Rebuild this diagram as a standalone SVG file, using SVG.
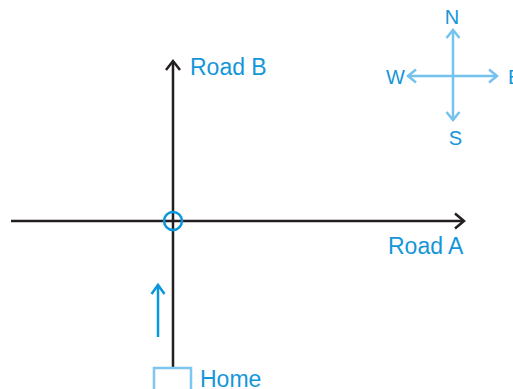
<svg xmlns="http://www.w3.org/2000/svg" width="513" height="389" viewBox="0 0 513 389">
<style>
.road{stroke:#231f20;stroke-width:2.5;fill:none}
.blue{stroke:#0a96dc;stroke-width:2.5;fill:none}
.comp{stroke:#74c3ee;stroke-width:2.5;fill:none}
.lbl{font-family:"Liberation Sans",Arial,sans-serif;fill:#1496d9}
</style>
<rect width="513" height="389" fill="#fff"/>
<g id="connectors">
<line class="road" x1="11" y1="221" x2="463" y2="221"/>
<polyline class="road" points="455,213.5 464,221 455,228.5"/>
<line class="road" x1="173" y1="61" x2="173" y2="367"/>
<polyline class="road" points="166,70 173,61 180,70"/>
<line class="blue" x1="158" y1="337" x2="158" y2="285"/>
<polyline class="blue" points="151.5,294 158,285 164.5,294"/>
</g>
<g id="crossing"><circle cx="173" cy="221" r="9" fill="none" stroke="#0a96dc" stroke-width="2.5"/></g>
<g id="home">
<rect x="154" y="368" width="37" height="24" fill="#fff" stroke="#7cc6ef" stroke-width="2.5"/>
<text class="lbl" x="200" y="386.5" font-size="23">Home</text>
</g>
<g id="roadB"><text class="lbl" x="190" y="75" font-size="23">Road B</text></g>
<g id="roadA"><text class="lbl" x="388" y="254" font-size="23">Road A</text></g>
<g id="compass">
<line class="comp" x1="453" y1="30" x2="453" y2="120"/>
<polyline class="comp" points="446.5,38 453,30 459.5,38"/>
<polyline class="comp" points="446.5,112 453,120 459.5,112"/>
<line class="comp" x1="408" y1="76" x2="497" y2="76"/>
<polyline class="comp" points="416,69.5 408,76 416,82.5"/>
<polyline class="comp" points="489,69.5 497,76 489,82.5"/>
<text class="lbl" x="452" y="23.5" font-size="20" text-anchor="middle">N</text>
<text class="lbl" x="395.5" y="84" font-size="20" text-anchor="middle">W</text>
<text class="lbl" x="508" y="84" font-size="20">E</text>
<text class="lbl" x="455.5" y="145" font-size="20" text-anchor="middle">S</text>
</g>
</svg>
